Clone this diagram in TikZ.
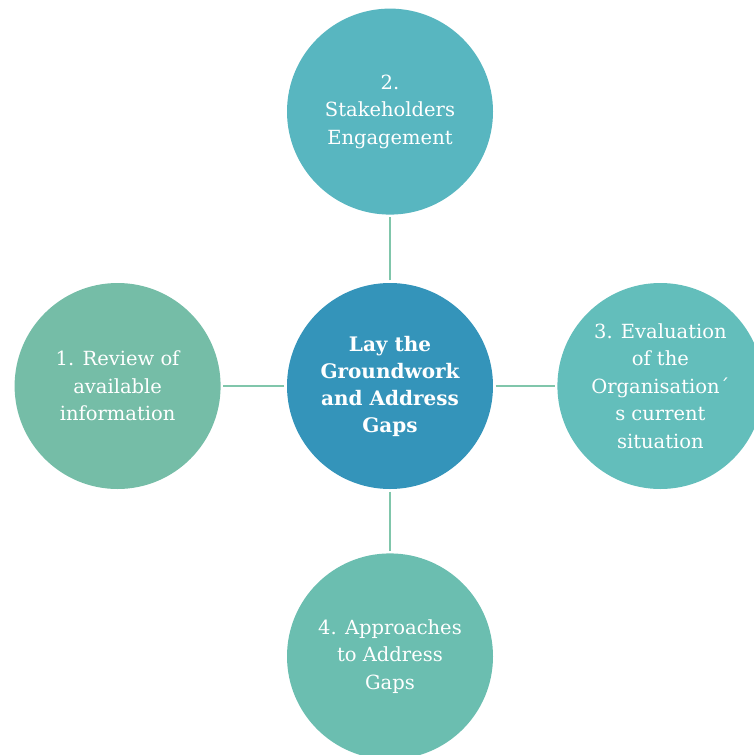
\documentclass[tikz,border=0pt]{standalone}
\usepackage{fontspec}
\setmainfont{DejaVu Serif}
\usetikzlibrary{positioning}

\definecolor{coreblue}{HTML}{3494BA}
\definecolor{stakecol}{HTML}{58B6C0}
\definecolor{evalcol}{HTML}{63BEBB}
\definecolor{gapcol}{HTML}{6BBEB0}
\definecolor{reviewcol}{HTML}{75BDA7}
\definecolor{spokecol}{HTML}{80C6AB}

\begin{document}
\begin{tikzpicture}[x=1pt, y=-1pt]
        \tikzstyle{bubble}=[circle, minimum size=206pt, inner sep=0pt, text=white, align=center, font=\fontsize{19.5}{27.5}\selectfont];
        \tikzstyle{spoke}=[draw=spokecol, line width=2pt, shorten <=2.5pt, shorten >=2.5pt];
        \useasboundingbox (0,0) rectangle (754,755);
        \node[bubble, fill=coreblue, font=\bfseries\fontsize{20}{27}\selectfont] (core) at (390,386) {Lay the\\Groundwork\\and Address\\Gaps};
        \node[bubble, fill=stakecol, above=68pt of core] (stake) {2.\\Stakeholders\\Engagement};
        \node[bubble, fill=evalcol, right=64pt of core] (eval) {3. Evaluation\\of the\\Organisation´\\s current\\situation};
        \node[bubble, fill=gapcol, below=64pt of core] (gaps) {4. Approaches\\to Address\\Gaps};
        \node[bubble, fill=reviewcol, left=66pt of core] (review) {1. Review of\\available\\information};

        \path[spoke]
        (core) edge (stake)
        (core) edge (eval)
        (core) edge (gaps)
        (core) edge (review);
      \end{tikzpicture}
\end{document}
